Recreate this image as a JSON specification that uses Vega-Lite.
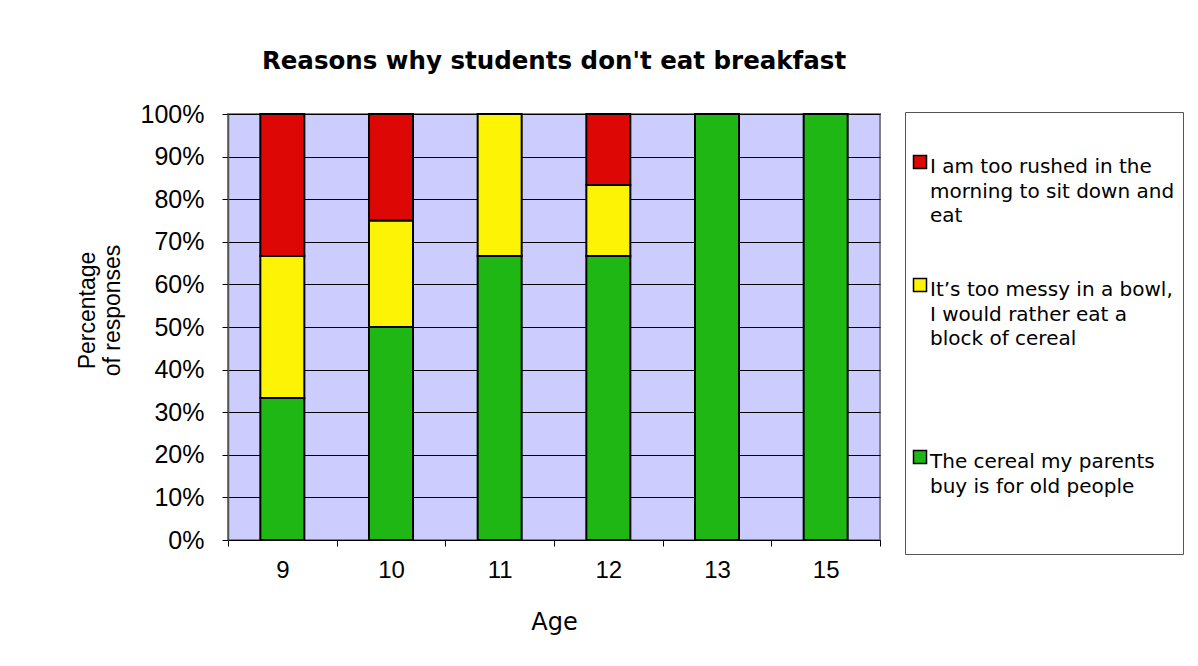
{
  "$schema": "https://vega.github.io/schema/vega-lite/v6.json",
  "width": 652,
  "height": 426,
  "autosize": "none",
  "padding": {"left": 228, "top": 114, "right": 318, "bottom": 126},
  "background": "white",
  "title": {
    "text": "Reasons why students don't eat breakfast",
    "font": "DejaVu Sans",
    "fontSize": 24.5,
    "fontWeight": "bold",
    "color": "black",
    "anchor": "middle",
    "offset": 28
  },
  "data": {
    "values": [
      {"age": 9, "reason": "The cereal my parents buy is for old people", "pct": 33.33},
      {"age": 9, "reason": "It’s too messy in a bowl, I would rather eat a block of cereal", "pct": 33.33},
      {"age": 9, "reason": "I am too rushed in the morning to sit down and eat", "pct": 33.34},
      {"age": 10, "reason": "The cereal my parents buy is for old people", "pct": 50},
      {"age": 10, "reason": "It’s too messy in a bowl, I would rather eat a block of cereal", "pct": 25},
      {"age": 10, "reason": "I am too rushed in the morning to sit down and eat", "pct": 25},
      {"age": 11, "reason": "The cereal my parents buy is for old people", "pct": 66.67},
      {"age": 11, "reason": "It’s too messy in a bowl, I would rather eat a block of cereal", "pct": 33.33},
      {"age": 12, "reason": "The cereal my parents buy is for old people", "pct": 66.67},
      {"age": 12, "reason": "It’s too messy in a bowl, I would rather eat a block of cereal", "pct": 16.67},
      {"age": 12, "reason": "I am too rushed in the morning to sit down and eat", "pct": 16.66},
      {"age": 13, "reason": "The cereal my parents buy is for old people", "pct": 100},
      {"age": 15, "reason": "The cereal my parents buy is for old people", "pct": 100}
    ]
  },
  "mark": {"type": "bar", "width": {"band": 0.405}, "stroke": "black", "strokeWidth": 2},
  "encoding": {
    "x": {
      "field": "age",
      "type": "ordinal",
      "title": "Age",
      "scale": {"paddingInner": 0, "paddingOuter": 0},
      "axis": {
        "labelAngle": 0,
        "tickBand": "extent",
        "grid": false,
        "domainColor": "black",
        "domainWidth": 1,
        "tickColor": "black",
        "tickSize": 6,
        "labelFont": "Liberation Sans",
        "labelFontSize": 24,
        "labelColor": "black",
        "labelPadding": 12,
        "titleFont": "DejaVu Sans",
        "titleFontSize": 24,
        "titleFontWeight": "normal",
        "titleColor": "black",
        "titlePadding": 28
      }
    },
    "y": {
      "field": "pct",
      "type": "quantitative",
      "stack": "normalize",
      "title": ["Percentage", "of responses"],
      "axis": {
        "values": [0, 0.1, 0.2, 0.3, 0.4, 0.5, 0.6, 0.7, 0.8, 0.9, 1],
        "format": ".0%",
        "grid": true,
        "gridColor": "black",
        "gridWidth": 1,
        "gridOpacity": 1,
        "domainColor": "#555555",
        "domainWidth": 1.5,
        "tickColor": "black",
        "tickSize": 6,
        "labelFont": "Liberation Sans",
        "labelFontSize": 25,
        "labelColor": "black",
        "labelPadding": 18,
        "titleFont": "Liberation Sans",
        "titleFontSize": 23,
        "titleFontWeight": "normal",
        "titleColor": "black",
        "titlePadding": 16,
        "titleY": 196
      }
    },
    "color": {
      "field": "reason",
      "type": "nominal",
      "scale": {
        "domain": [
          "I am too rushed in the morning to sit down and eat",
          "It’s too messy in a bowl, I would rather eat a block of cereal",
          "The cereal my parents buy is for old people"
        ],
        "range": ["#DD0806", "#FCF305", "#1FB714"]
      },
      "legend": {
        "orient": "none",
        "legendX": 677,
        "legendY": -2,
        "title": " ",
        "titleFontSize": 10,
        "titlePadding": 17,
        "padding": 8,
        "strokeColor": "#555555",
        "fillColor": "white",
        "symbolType": "M-1.46,-0.23H0.54V1.77H-1.46Z",
        "symbolSize": 169,
        "symbolStrokeColor": "black",
        "symbolStrokeWidth": 1.5,
        "symbolOpacity": 1,
        "labelFont": "DejaVu Sans",
        "labelFontSize": 20,
        "labelColor": "black",
        "labelLimit": 400,
        "labelOffset": -3,
        "labelBaseline": "top",
        "rowPadding": 19,
        "labelExpr": "indexof(datum.label, 'I am') == 0 ? ['I am too rushed in the', 'morning to sit down and', 'eat', ''] : indexof(datum.label, 'It') == 0 ? ['It’s too messy in a bowl,', 'I would rather eat a', 'block of cereal', '', '', ''] : ['The cereal my parents', 'buy is for old people', '', '']"
      }
    },
    "order": {"field": "reason", "sort": "descending"}
  },
  "config": {
    "view": {"fill": "#CCCCFF", "stroke": "#808080", "strokeWidth": 2},
    "axis": {"labelOverlap": false},
    "style": {"guide-label": {"lineHeight": 24.5}}
  }
}
